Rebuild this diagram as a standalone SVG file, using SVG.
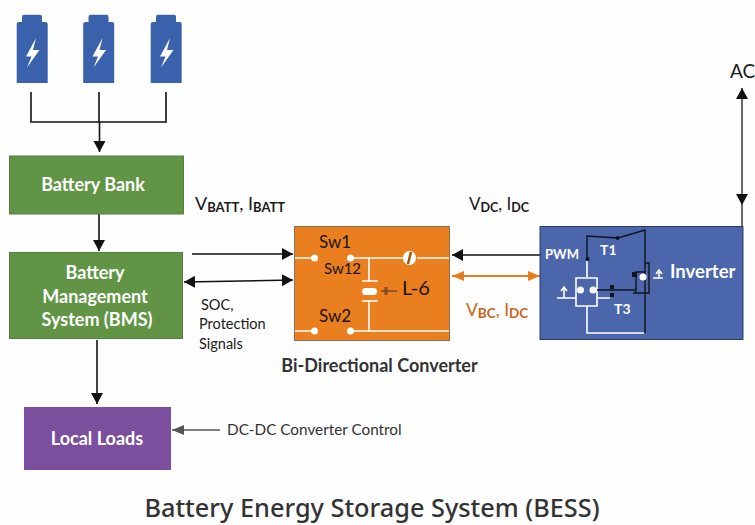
<svg xmlns="http://www.w3.org/2000/svg" width="755" height="525" viewBox="0 0 755 525">
<style>
text{font-family:"Noto Sans","Open Sans","Liberation Sans",sans-serif;fill:#1a1a1a}
.w{font-family:Lato,"Noto Sans",sans-serif;fill:#fff;font-weight:700;font-size:18px;text-anchor:middle}
.sm{font-size:14.500px;font-family:Lato,"Noto Sans",sans-serif}
.c{fill:none;stroke:#111;stroke-width:1.6}
.wl{fill:none;stroke:#fff;stroke-width:1.6}
.bk{fill:none;stroke:#10141e;stroke-width:1.4}
.bat{fill:#3a62ac}
.green{fill:#619545;stroke:#55803f;stroke-width:1}
.dk{fill:#1c1408;font-family:Lato,"Noto Sans",sans-serif}
.inv{fill:#fff;font-family:Lato,"Noto Sans",sans-serif;font-weight:700}
</style>
<defs>
<marker id="a" markerWidth="12" markerHeight="14" refX="11" refY="6" orient="auto-start-reverse" markerUnits="userSpaceOnUse"><path d="M0 0L11 6L0 12Z" fill="#111"/></marker>
<marker id="o" markerWidth="14" markerHeight="12" refX="12" refY="5" orient="auto-start-reverse" markerUnits="userSpaceOnUse"><path d="M0 0L12 5L0 10Z" fill="#e87d1e"/></marker>
<marker id="g" markerWidth="14" markerHeight="12" refX="12" refY="5" orient="auto-start-reverse" markerUnits="userSpaceOnUse"><path d="M0 0L12 5L0 10Z" fill="#555"/></marker>
<g id="cell"><path class="bat" d="M16.700 24Q16.700 22 19 22H22V17Q22 14.700 24 14.700H40Q42 14.700 42 17V22H45.500Q47.700 22 47.700 24V83H16.700Z"/><path d="M36 38L26 56.500H31.500L27 67.500L39.500 50H33Z" fill="#fff"/></g>
</defs>
<rect width="755" height="525" fill="#fefefe"/>
<g id="connectors">
<path class="c" d="M31 92V122H166V92M99 92V122"/>
<path class="c" d="M99.500 122V152" marker-end="url(#a)"/>
<path class="c" d="M99 214V251" marker-end="url(#a)"/>
<path class="c" d="M97 340V404" marker-end="url(#a)"/>
<path class="c" d="M192 254H293" marker-end="url(#a)"/>
<path class="c" d="M184 282L293 280" marker-start="url(#a)" marker-end="url(#a)"/>
<path class="c" d="M540 255H452" marker-end="url(#a)"/>
<path d="M540 276H452" fill="none" stroke="#e87d1e" stroke-width="2.2" marker-start="url(#o)" marker-end="url(#o)"/>
<path d="M742 226V205" fill="none" stroke="#444" stroke-width="1.6"/>
<path d="M742 205V88" fill="none" stroke="#444" stroke-width="1.6" marker-start="url(#a)" marker-end="url(#a)"/>
<path d="M220 430H172" fill="none" stroke="#555" stroke-width="1.4" marker-end="url(#g)"/>
</g>
<g id="battery1"><use href="#cell"/></g>
<g id="battery2"><use href="#cell" x="66.500"/></g>
<g id="battery3"><use href="#cell" x="134"/></g>
<g id="battery-bank"><rect class="green" x="9.500" y="156" width="174" height="58"/><text class="w" x="93" y="191">Battery Bank</text></g>
<g id="bms"><rect class="green" x="9.500" y="252.500" width="173" height="86"/><text class="w" x="95" y="279">Battery</text><text class="w" x="95" y="303">Management</text><text class="w" x="97" y="326">System (BMS)</text></g>
<g id="local-loads"><rect x="24" y="407" width="147" height="63" fill="#7c4e9e"/><text class="w" x="97" y="445">Local Loads</text></g>
<g id="converter">
<rect x="294.500" y="226.500" width="155" height="114" fill="#e97f1f" stroke="#8a7355" stroke-width="1"/>
<path class="wl" d="M295 258H314M352 258H403M417 258H449M369 258V281M369 301V331M295 331H314M352 331H449M362 281H378M362 301H378"/>
<circle cx="314.500" cy="258" r="3.500" fill="#fff"/><circle cx="350.500" cy="258" r="3.500" fill="#fff"/><circle cx="314.500" cy="331" r="3.500" fill="#fff"/><circle cx="350.500" cy="331" r="3.500" fill="#fff"/>
<ellipse cx="409.500" cy="258" rx="6.500" ry="7" fill="#fff"/><path d="M411 252L408 264" stroke="#9a5a18" stroke-width="2.500"/>
<rect x="362" y="288" width="15" height="7" rx="3.500" fill="#fff"/>
<path d="M381 291H397" stroke="#7a4a20" stroke-width="1.500"/><path d="M386 287V295" stroke="#8a4a18" stroke-width="3"/>
<text x="319" y="248" font-size="17" class="dk">Sw1</text><text x="324" y="274" font-size="15" class="dk">Sw12</text><text x="319" y="322" font-size="17" class="dk">Sw2</text><text x="402" y="295" font-size="20" class="dk">L-6</text>
</g>
<g id="inverter">
<rect x="540" y="226.500" width="203" height="113" fill="#4b66aa" stroke="#2c3c66" stroke-width="1"/>
<path class="wl" d="M587 261V277M576 278H597V306H576ZM587 306V333H644M557 298H576M564 298V288M561 291L564 287L567 291M597 298H610"/>
<path class="bk" d="M587 259V236L618 238L645 230V333M597 290H636V293H649V263H645M636 293V272H645M633 293H649"/>
<circle cx="580.500" cy="290" r="3.500" fill="#fff"/><circle cx="593" cy="290" r="3.500" fill="#fff"/><circle cx="643" cy="277" r="3.500" fill="#fff"/>
<circle cx="587.500" cy="259" r="2" fill="#10141e"/><circle cx="617.500" cy="238" r="2" fill="#10141e"/><rect x="610" y="285" width="4" height="4" fill="#10141e"/><rect x="610" y="293" width="4" height="4" fill="#10141e"/><rect x="632" y="272" width="5" height="5" fill="#10141e"/>
<path class="wl" d="M653 278H663M659 278V272M656 274L659 270L662 274"/>
<text x="545" y="259" font-size="13" class="inv">PWM</text><text x="600" y="255" font-size="14" class="inv">T1</text><text x="614" y="314" font-size="14" class="inv">T3</text><text x="670" y="278" font-size="18.500" class="inv">Inverter</text>
</g>
<g id="labels">
<text x="730" y="78" font-size="19" style="font-family:Lato,sans-serif">AC</text>
<text x="195" y="210" font-size="18" style="font-family:Lato,sans-serif;font-weight:400">V<tspan font-size="13" font-weight="700" dy="2">BATT</tspan><tspan dy="-2">, I</tspan><tspan font-size="13" font-weight="700" dy="2">BATT</tspan></text>
<text x="469" y="210" font-size="17" style="font-family:Lato,sans-serif">V<tspan font-size="12.500" font-weight="700" dy="2">DC</tspan><tspan dy="-2">, I</tspan><tspan font-size="12.500" font-weight="700" dy="2">DC</tspan></text>
<text x="466" y="316" font-size="17.500" style="fill:#c8651b;font-family:Lato,sans-serif">V<tspan font-size="13.500" font-weight="700" dy="2">BC</tspan><tspan dy="-2">, I</tspan><tspan font-size="13.500" font-weight="700" dy="2">DC</tspan></text>
<text x="201" y="310" class="sm">SOC,</text><text x="199" y="329" class="sm">Protection</text><text x="199" y="349" class="sm">Signals</text>
<text x="379.500" y="372" font-size="18" font-weight="700" text-anchor="middle" style="fill:#333;font-family:Lato,sans-serif">Bi-Directional Converter</text>
<text x="227" y="435" font-size="15.300" style="fill:#333;font-family:Lato,sans-serif">DC-DC Converter Control</text>
<text x="372" y="517" font-size="25.300" font-weight="500" text-anchor="middle" style="fill:#333">Battery Energy Storage System (BESS)</text>
</g>
</svg>
